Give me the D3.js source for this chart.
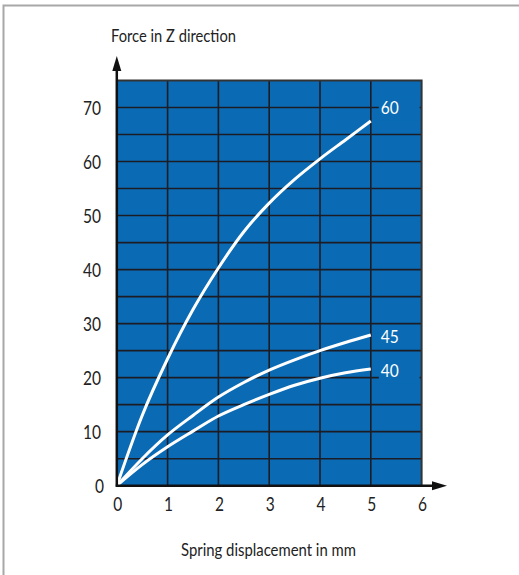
<!DOCTYPE html>
<html><head><meta charset="utf-8">
<script src="https://cdn.jsdelivr.net/npm/d3@7"></script>
<style>body{margin:0;background:#fff}svg{display:block}text{font-family:Lato,"Open Sans",sans-serif;fill:#222}</style>
</head><body>
<script>
const xTicks = [0,1,2,3,4,5,6];
const yTicks = [0,10,20,30,40,50,60,70];
const yGrid = [5,10,15,20,25,30,35,40,45,50,55,60,65,70];
const xValues = [0,0.5,1,1.5,2,2.5,3,3.5,4,4.5,5];
const s60 = [0,13.0,23.5,32.6,40.3,47.0,52.3,56.7,60.5,64.0,67.5];
const s45 = [0,5.0,9.4,13.0,16.4,19.1,21.4,23.3,25.0,26.5,27.9];
const s40 = [0,3.9,7.2,10.1,12.9,15.0,16.9,18.6,19.9,20.9,21.6];
const seriesNames = ["60","45","40"];
const seriesValues = [s60,s45,s40];

const W=519,H=575;
const svg=d3.select("body").append("svg").attr("width",W).attr("height",H);
svg.append("rect").attr("x",3.5).attr("y",5.5).attr("width",W+10).attr("height",H+10)
  .attr("fill","none").attr("stroke","#a8a8a8").attr("stroke-width",2);

const x=d3.scaleLinear().domain([0,6]).range([116.8,421.6]);
const y=d3.scaleLinear().domain([0,75]).range([485.7,80.5]);
const blue="#0a6bb4";

svg.append("rect").attr("x",x(0)).attr("y",y(75)).attr("width",x(6)-x(0)).attr("height",y(0)-y(75)).attr("fill",blue);

const g=svg.append("g");
g.selectAll(".vg").data(xTicks.filter(d=>d>0&&d<6)).enter().append("line")
 .attr("x1",d=>x(d)).attr("x2",d=>x(d)).attr("y1",y(75)).attr("y2",y(0))
 .attr("stroke","#1c1c24").attr("stroke-width",1.6);
g.selectAll(".hg").data(yGrid).enter().append("line")
 .attr("x1",x(0)).attr("x2",x(6)).attr("y1",d=>y(d)).attr("y2",d=>y(d))
 .attr("stroke","#1c1c24").attr("stroke-width",1.6);
svg.append("path").attr("d",`M${x(0)},${y(75)}H${x(6)}V${y(0)}`).attr("fill","none").attr("stroke","#333").attr("stroke-width",2);

const line=d3.line().x((d,i)=>x(xValues[i])).y(d=>y(d)).curve(d3.curveMonotoneX);
svg.selectAll(".curve").data(seriesValues).enter().append("path")
 .attr("d",d=>line(d)).attr("fill","none").attr("stroke","#fff").attr("stroke-width",3);

seriesValues.forEach((s,i)=>{
  const v=s[s.length-1];
  const ly = i===0 ? y(v)-13 : y(v)+2;
  svg.append("rect").attr("x",x(5)+8).attr("y",ly-12).attr("width",x(6)-x(5)-10).attr("height",24).attr("fill",blue);
  svg.append("text").attr("x",x(5)+10).attr("y",ly+6).attr("font-size",17).attr("textLength",18).attr("lengthAdjust","spacingAndGlyphs").style("fill","#fff").text(seriesNames[i]);
});

svg.append("line").attr("x1",x(0)).attr("x2",x(0)).attr("y1",y(0)+1).attr("y2",68).attr("stroke","#111").attr("stroke-width",2.5);
svg.append("path").attr("d",`M${x(0)},56 L${x(0)-4.5},71 L${x(0)+4.5},71Z`).attr("fill","#111");
svg.append("line").attr("x1",x(0)-1).attr("x2",436).attr("y1",y(0)).attr("y2",y(0)).attr("stroke","#111").attr("stroke-width",2.5);
svg.append("path").attr("d",`M447,${y(0)} L432,${y(0)-4.5} L432,${y(0)+4.5}Z`).attr("fill","#111");

svg.selectAll(".yt").data(yTicks).enter().append("text")
 .attr("x",d=>d===0?104:101).attr("y",d=>y(d)+7).attr("text-anchor","end").attr("font-size",19)
 .attr("textLength",d=>d===0?9:18).attr("lengthAdjust","spacingAndGlyphs").text(d=>d);
svg.selectAll(".xt").data(xTicks).enter().append("text")
 .attr("x",d=>x(d)+1).attr("y",511).attr("text-anchor","middle").attr("font-size",19)
 .attr("textLength",9).attr("lengthAdjust","spacingAndGlyphs").text(d=>d);

svg.append("text").attr("x",111).attr("y",42).attr("font-size",17).attr("textLength",125).attr("lengthAdjust","spacingAndGlyphs").text("Force in Z direction");
svg.append("text").attr("x",181).attr("y",556).attr("font-size",17).attr("textLength",175).attr("lengthAdjust","spacingAndGlyphs").text("Spring displacement in mm");
</script>
</body></html>
